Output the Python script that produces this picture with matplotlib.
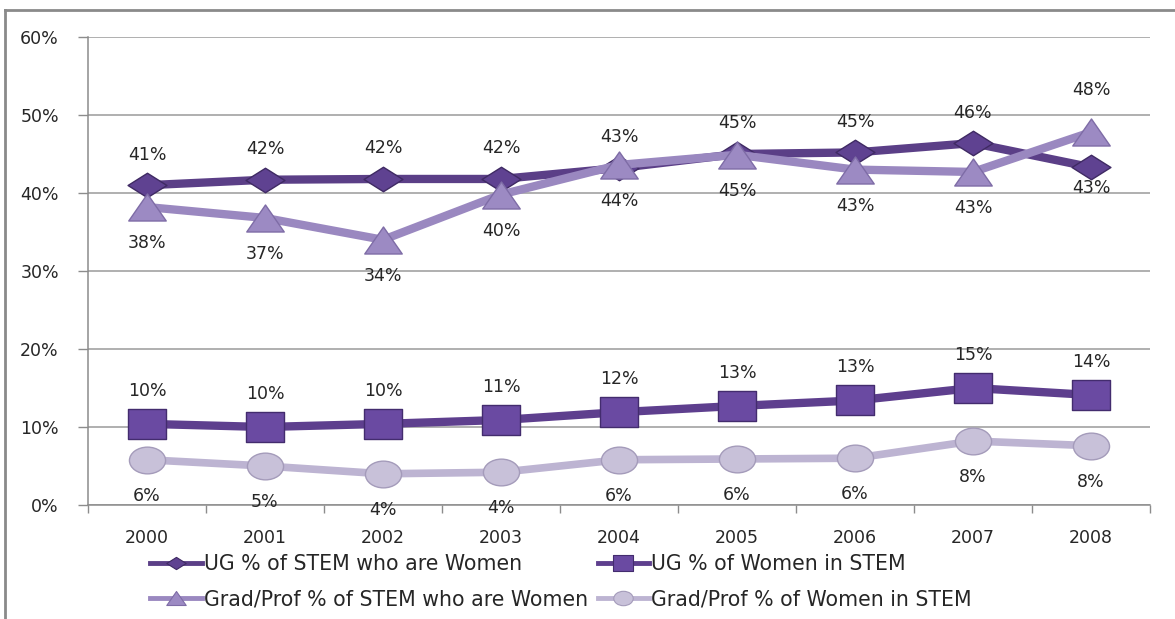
import matplotlib
matplotlib.use("Agg")
import matplotlib.pyplot as plt
import numpy as np
from matplotlib.path import Path
from matplotlib.lines import Line2D
from matplotlib.ticker import FuncFormatter, FixedLocator

# ---- data ----
years = ["2000", "2001", "2002", "2003", "2004", "2005", "2006", "2007", "2008"]
ug_stem_women = [41.0, 41.7, 41.8, 41.8, 43.2, 45.0, 45.2, 46.4, 43.3]
ug_women_in_stem = [10.4, 10.0, 10.4, 10.9, 11.9, 12.7, 13.4, 15.0, 14.1]
grad_stem_women = [38.2, 36.8, 34.0, 39.8, 43.6, 44.9, 43.0, 42.7, 47.8]
grad_women_in_stem = [5.8, 5.0, 4.0, 4.2, 5.8, 5.9, 6.0, 8.2, 7.6]
series_names = ["UG % of STEM who are Women", "UG % of Women in STEM",
                "Grad/Prof % of STEM who are Women", "Grad/Prof % of Women in STEM"]
y_ticks = [0, 10, 20, 30, 40, 50, 60]

plt.rcParams['font.family'] = ['DejaVu Sans']

# wide (horizontally stretched) marker shapes
diamond = Path([(-1, 0), (0, 0.63), (1, 0), (0, -0.63), (-1, 0)],
               [Path.MOVETO, Path.LINETO, Path.LINETO, Path.LINETO, Path.CLOSEPOLY])
square = Path([(-1, -0.78), (1, -0.78), (1, 0.78), (-1, 0.78), (-1, -0.78)],
              [Path.MOVETO, Path.LINETO, Path.LINETO, Path.LINETO, Path.CLOSEPOLY])
triangle = Path([(-1, -0.72), (1, -0.72), (0, 0.72), (-1, -0.72)],
                [Path.MOVETO, Path.LINETO, Path.LINETO, Path.CLOSEPOLY])
uc = Path.unit_circle()
ellipse = Path(uc.vertices * np.array([1.0, 0.74]), uc.codes)

fig = plt.figure(figsize=(11.75, 6.19), dpi=100)
ax = fig.add_axes([88/1175, 1-505/619, (1150-88)/1175, (505-37)/619])

x = np.arange(len(years))

styles = [
    dict(data=ug_stem_women, color="#5B3F87", mfc="#5F4291", mec="#3F2A63", marker=diamond, ms=28, lw=6.0,
         pos=["a"]*8 + ["b"], off_a=22, off_b=15),
    dict(data=ug_women_in_stem, color="#5E3F8E", mfc="#6A4AA2", mec="#432C6E", marker=square, ms=27, lw=6.0,
         pos=["a"]*9, off_a=24, off_b=24),
    dict(data=grad_stem_women, color="#9A88C0", mfc="#9C8AC3", mec="#7E6CA6", marker=triangle, ms=27, lw=6.0,
         pos=["b"]*8 + ["a"], off_a=30, off_b=26),
    dict(data=grad_women_in_stem, color="#BDB4D2", mfc="#C8C1D9", mec="#A49BBA", marker=ellipse, ms=26, lw=5.5,
         pos=["b"]*9, off_a=24, off_b=26),
]

for i, s in enumerate(styles):
    ax.plot(x, s["data"], color=s["color"], lw=s["lw"], marker=s["marker"], ms=s["ms"],
            mfc=s["mfc"], mec=s["mec"], mew=1.0, solid_joinstyle="miter", zorder=3 + i,
            label=series_names[i])
    for xi, v, p in zip(x, s["data"], s["pos"]):
        dy = s["off_a"] if p == "a" else -s["off_b"]
        ax.annotate(f"{int(round(v))}%", (xi, v), xytext=(0, dy), textcoords="offset points",
                    ha="center", va="center", fontsize=12.5, color="#262626", zorder=10)

ax.set_xlim(-0.5, len(years) - 0.5)
ax.set_ylim(0, 60)
ax.set_yticks(y_ticks)
ax.yaxis.set_major_formatter(FuncFormatter(lambda v, p: f"{int(v)}%"))
ax.set_xticks(x)
ax.set_xticklabels(years)
ax.xaxis.set_minor_locator(FixedLocator(np.arange(-0.5, len(years), 1.0)))
ax.tick_params(axis="x", which="major", length=0, pad=17, labelsize=12.5, labelcolor="#262626")
ax.tick_params(axis="x", which="minor", length=6, color="#8C8C8C", width=1, direction="out")
ax.tick_params(axis="y", length=7, color="#8C8C8C", width=1, pad=14, labelsize=12.5, labelcolor="#262626")
ax.grid(axis="y", color="#9A9A9A", lw=1.1)
ax.set_axisbelow(True)
for side in ["top", "right"]:
    ax.spines[side].set_visible(False)
for side in ["left", "bottom"]:
    ax.spines[side].set_color("#8C8C8C")
    ax.spines[side].set_linewidth(1.1)

# legend handles (small markers)
leg_handles = []
for i, s in enumerate(styles):
    leg_handles.append(Line2D([], [], color=s["color"], lw=3.5, marker=s["marker"], ms=14,
                              mfc=s["mfc"], mec=s["mec"], mew=0.8, label=series_names[i]))
order = [0, 2, 1, 3]
fig.legend([leg_handles[i] for i in order], [series_names[i] for i in order],
           ncol=2, loc="upper left", bbox_to_anchor=(140/1175, 1-544/619), frameon=False,
           fontsize=14.8, handlelength=2.5, handletextpad=0.12, columnspacing=0.45,
           labelspacing=0.72, borderpad=0, labelcolor="#262626")

# outer frame (top and left edges visible)
fig.add_artist(Line2D([5/1175, 5/1175], [0, 1-10/619], transform=fig.transFigure,
                      color="#8A8A8A", lw=2))
fig.add_artist(Line2D([5/1175, 1], [1-10/619, 1-10/619], transform=fig.transFigure,
                      color="#8A8A8A", lw=2))

fig.savefig("out.png", dpi=100)
